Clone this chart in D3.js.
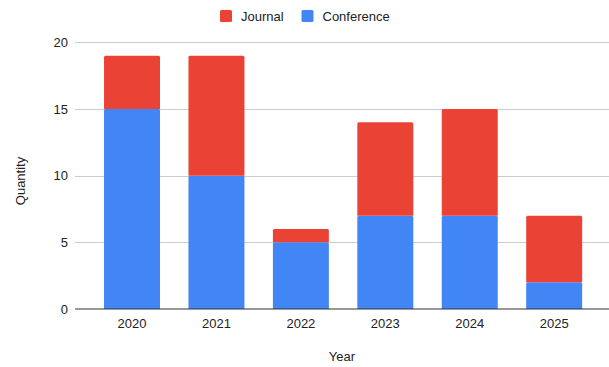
<!DOCTYPE html>
<html>
<head>
<meta charset="utf-8">
<script src="https://cdn.jsdelivr.net/npm/d3@7"></script>
<style>
  html, body { margin: 0; padding: 0; background: #fff; }
  svg { display: block; font-family: "Liberation Sans", Arial, sans-serif; }
</style>
</head>
<body>
<svg id="chart" width="609" height="367"></svg>
<script>
// Publications per year, split by venue type
const years = ["2020", "2021", "2022", "2023", "2024", "2025"];
const conference = [15, 10, 5, 7, 7, 2];
const journal = [4, 9, 1, 7, 8, 5];
const yTicks = [0, 5, 10, 15, 20];
const seriesNames = ["Journal", "Conference"];
const seriesColors = { Conference: "#4285F4", Journal: "#EA4335" };

const rows = years.map((y, i) => ({ year: y, Conference: conference[i], Journal: journal[i] }));
const stacked = d3.stack().keys(["Conference", "Journal"])(rows);

const svg = d3.select("#chart");
const gridLeft = 75, gridRight = 609;

const x = d3.scaleBand().domain(years).range([89.8, 596.4]).paddingInner(0.337).paddingOuter(0.1685);
const y = d3.scaleLinear().domain([0, 20]).range([309, 42.3]);

// Horizontal gridlines
svg.append("g").selectAll("line").data(yTicks.filter(t => t !== 0)).join("line")
  .attr("x1", gridLeft).attr("x2", gridRight)
  .attr("y1", d => Math.round(y(d)) + 0.5).attr("y2", d => Math.round(y(d)) + 0.5)
  .attr("stroke", "#cccccc").attr("stroke-width", 1);

// Y tick labels
svg.append("g").selectAll("text").data(yTicks).join("text")
  .attr("x", 68).attr("y", d => y(d))
  .attr("dy", "0.35em").attr("text-anchor", "end")
  .attr("font-size", 13).attr("fill", "#222")
  .text(d => d);

// Stacked bars
svg.append("g").selectAll("g").data(stacked).join("g")
  .attr("fill", d => seriesColors[d.key])
  .selectAll("path").data(d => d).join("path")
  .attr("d", d => {
    const x0 = x(d.data.year), w = x.bandwidth();
    const yTop = y(d[1]), yBot = y(d[0]);
    const r = 1.5;
    return `M${x0},${yBot} L${x0},${yTop + r} Q${x0},${yTop} ${x0 + r},${yTop} ` +
           `L${x0 + w - r},${yTop} Q${x0 + w},${yTop} ${x0 + w},${yTop + r} L${x0 + w},${yBot} Z`;
  });

// Baseline
svg.append("line")
  .attr("x1", gridLeft).attr("x2", gridRight)
  .attr("y1", y(0)).attr("y2", y(0))
  .attr("stroke", "#333").attr("stroke-width", 1.2);

// X tick labels
svg.append("g").selectAll("text").data(years).join("text")
  .attr("x", d => x(d) + x.bandwidth() / 2).attr("y", 323)
  .attr("dy", "0.35em").attr("text-anchor", "middle")
  .attr("font-size", 13).attr("fill", "#222")
  .text(d => d);

// Axis titles
svg.append("text")
  .attr("x", 342).attr("y", 356).attr("dy", "0.35em")
  .attr("text-anchor", "middle").attr("font-size", 13).attr("fill", "#222")
  .text("Year");
svg.append("text")
  .attr("transform", "translate(20,181) rotate(-90)")
  .attr("dy", "0.35em")
  .attr("text-anchor", "middle").attr("font-size", 13).attr("fill", "#222")
  .text("Quantity");

// Legend
const legendPos = { Journal: 220, Conference: 301.5 };
const legend = svg.append("g").selectAll("g").data(seriesNames).join("g")
  .attr("transform", d => `translate(${legendPos[d]},10)`);
legend.append("rect")
  .attr("width", 12).attr("height", 12).attr("rx", 1.5)
  .attr("fill", d => seriesColors[d]);
legend.append("text")
  .attr("x", 21).attr("y", 6).attr("dy", "0.35em")
  .attr("font-size", 13).attr("fill", "#222")
  .text(d => d);
</script>
</body>
</html>
